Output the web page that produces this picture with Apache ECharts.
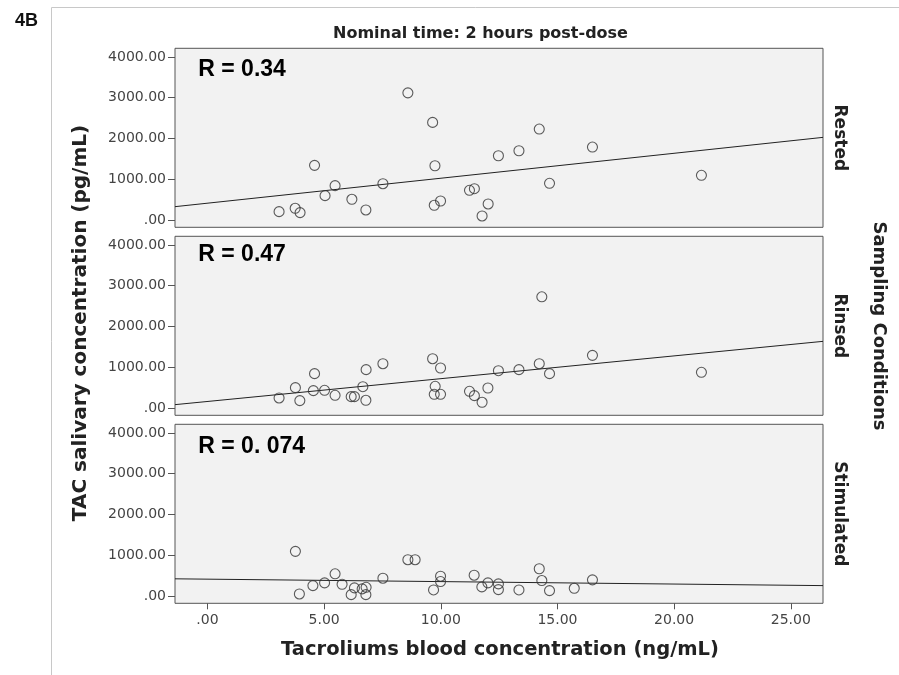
<!DOCTYPE html>
<html>
<head>
<meta charset="utf-8">
<script src="https://cdn.jsdelivr.net/npm/echarts@6/dist/echarts.min.js"></script>
<style>html,body{margin:0;padding:0;background:#fff;}#chart{width:899px;height:675px;}</style>
</head>
<body>
<div id="chart"></div>
<script>
// ---- data ----
const panelNames = ['Rested', 'Rinsed', 'Stimulated'];
const rLabels = ['R = 0.34', 'R = 0.47', 'R = 0. 074'];
const xTicks = [0, 5, 10, 15, 20, 25];
const yTicks = [0, 1000, 2000, 3000, 4000];

const restedX = [3.07, 3.76, 3.97, 4.59, 5.04, 5.47, 6.19, 6.79, 7.52, 8.59, 9.65, 9.75, 9.72, 9.99, 11.23, 11.44, 11.77, 12.03, 12.47, 13.35, 14.22, 14.66, 16.50, 21.17];
const restedY = [204, 286, 180, 1339, 596, 841, 507, 245, 889, 3118, 2393, 1330, 360, 465, 727, 767, 98, 392, 1575, 1697, 2229, 899, 1788, 1095];

const rinsedX = [3.07, 3.77, 3.96, 4.59, 4.54, 5.02, 5.47, 6.16, 6.30, 6.79, 6.66, 6.80, 7.52, 9.65, 9.99, 9.76, 9.72, 9.99, 11.23, 11.44, 11.77, 12.02, 12.47, 13.35, 14.22, 14.33, 14.66, 16.50, 21.17];
const rinsedY = [245, 498, 180, 841, 424, 433, 310, 278, 278, 188, 522, 939, 1085, 1208, 980, 531, 335, 335, 408, 302, 139, 490, 914, 939, 1085, 2726, 841, 1290, 874];

const stimX = [3.77, 3.94, 4.52, 5.02, 5.47, 5.77, 6.16, 6.30, 6.63, 6.80, 6.79, 7.52, 8.59, 8.90, 9.69, 9.99, 9.99, 11.43, 11.76, 12.02, 12.47, 12.47, 13.35, 14.22, 14.33, 14.66, 15.72, 16.50];
const stimY = [1094, 49, 254, 321, 543, 286, 32, 198, 173, 212, 32, 435, 889, 889, 148, 484, 353, 509, 222, 321, 296, 156, 148, 667, 378, 131, 188, 395];

// linear fit lines (intercept, slope)
const fitIntercept = [411, 159, 412];
const fitSlope = [61.2, 55.9, -6.0];

// axis extents
const xMin = -1.39, xMax = 26.38;
const yMin = -180, yMax = 4210;

// ---- build ----
const xs = [restedX, rinsedX, stimX];
const ys = [restedY, rinsedY, stimY];
const zip = (a, b) => a.map((v, i) => [v, b[i]]);

const gridTops = [48.3, 236.3, 424.3];
const gridH = 179;
const gridLeft = 175, gridW = 648;
const rY = [69.7, 254.7, 446.7];

const grids = [], xAxes = [], yAxes = [], series = [];
for (let i = 0; i < 3; i++) {
  grids.push({
    left: gridLeft, top: gridTops[i], width: gridW, height: gridH,
    show: true, backgroundColor: '#f2f2f2', borderColor: '#555', borderWidth: 1,
    containLabel: false
  });
  const last = i === 2;
  xAxes.push({
    type: 'value', gridIndex: i, min: xMin, max: xMax, position: 'bottom',
    splitLine: { show: false },
    axisLine: { show: false, onZero: false },
    axisTick: { show: last, customValues: xTicks, length: 6, lineStyle: { color: '#555', width: 1 } },
    axisLabel: {
      show: last, customValues: xTicks, margin: 10,
      fontFamily: 'DejaVu Sans', fontSize: 14, color: '#444',
      formatter: v => v === 0 ? '.00' : v.toFixed(2)
    }
  });
  yAxes.push({
    type: 'value', gridIndex: i, min: yMin, max: yMax, position: 'left',
    splitLine: { show: false },
    axisLine: { show: false, onZero: false },
    axisTick: { show: true, customValues: yTicks, length: 7, lineStyle: { color: '#555', width: 1 } },
    axisLabel: {
      show: true, customValues: yTicks, margin: 9,
      fontFamily: 'DejaVu Sans', fontSize: 14, color: '#444',
      formatter: v => v === 0 ? '.00' : v.toFixed(2)
    }
  });
  series.push({
    type: 'line', xAxisIndex: i, yAxisIndex: i, silent: true,
    showSymbol: false, symbol: 'none',
    lineStyle: { color: '#222', width: 1 },
    data: [[xMin, fitIntercept[i] + fitSlope[i] * xMin], [xMax, fitIntercept[i] + fitSlope[i] * xMax]],
    z: 2
  });
  series.push({
    type: 'scatter', xAxisIndex: i, yAxisIndex: i,
    symbol: 'circle', symbolSize: 10,
    itemStyle: { color: 'rgba(0,0,0,0)', borderColor: '#333', borderWidth: 1.1 },
    data: zip(xs[i], ys[i]),
    z: 3
  });
}

const graphic = [
  { type: 'rect', shape: { x: 51.5, y: 7.5, width: 900, height: 700 }, style: { fill: 'none', stroke: '#c8c8c8', lineWidth: 1 }, z: -10 },
  { type: 'text', x: 15, y: 21, style: { text: '4B', fontFamily: 'Liberation Sans', fontWeight: 'bold', fontSize: 18, fill: '#111', verticalAlign: 'middle' } },
  { type: 'text', x: 480.5, y: 34.3, style: { text: 'Nominal time: 2 hours post-dose', fontFamily: 'DejaVu Sans', fontWeight: 'bold', fontSize: 16, fill: '#222', align: 'center', verticalAlign: 'middle' } },
  { type: 'text', x: 81, y: 323, rotation: Math.PI / 2, style: { text: 'TAC salivary concentration (pg/mL)', fontFamily: 'DejaVu Sans', fontWeight: 'bold', fontSize: 20, fill: '#222', align: 'center', verticalAlign: 'middle' } },
  { type: 'text', x: 500, y: 650, style: { text: 'Tacroliums blood concentration (ng/mL)', fontFamily: 'DejaVu Sans', fontWeight: 'bold', fontSize: 19.5, fill: '#222', align: 'center', verticalAlign: 'middle' } },
  { type: 'text', x: 879, y: 326, rotation: -Math.PI / 2, style: { text: 'Sampling Conditions', fontFamily: 'DejaVu Sans', fontWeight: 'bold', fontSize: 18, fill: '#222', align: 'center', verticalAlign: 'middle' } }
];
for (let i = 0; i < 3; i++) {
  graphic.push({ type: 'text', x: 839, y: gridTops[i] + gridH / 2, rotation: -Math.PI / 2, style: { text: panelNames[i], fontFamily: 'DejaVu Sans', fontWeight: 'bold', fontSize: 17, fill: '#222', align: 'center', verticalAlign: 'middle' } });
  graphic.push({ type: 'text', x: 198.3, y: rY[i], z: 10, style: { text: rLabels[i], fontFamily: 'Liberation Sans', fontWeight: 'bold', fontSize: 23, fill: '#000', verticalAlign: 'middle' } });
}

const chart = echarts.init(document.getElementById('chart'), null, { renderer: 'canvas' });
chart.setOption({
  animation: false,
  backgroundColor: '#fff',
  grid: grids,
  xAxis: xAxes,
  yAxis: yAxes,
  series: series,
  graphic: graphic
});
</script>
</body>
</html>
